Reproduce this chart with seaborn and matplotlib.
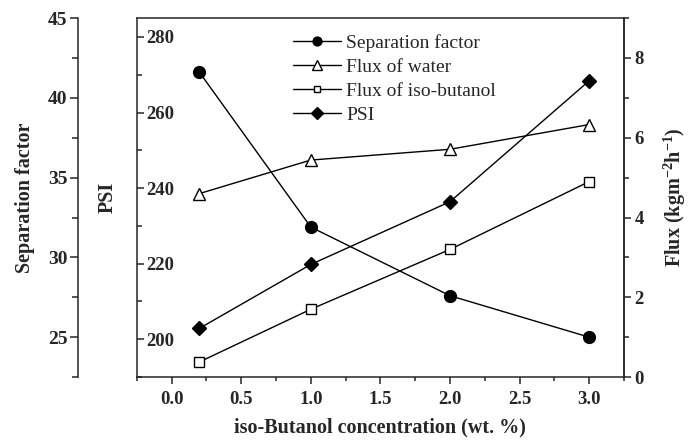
import matplotlib
matplotlib.use("Agg")
import matplotlib.pyplot as plt
import seaborn as sns
from matplotlib.ticker import MultipleLocator

# values
conc = [0.2, 1.0, 2.0, 3.0]
sep_factor = [41.6, 31.9, 27.6, 25.0]
flux_water = [4.60, 5.44, 5.71, 6.33]
flux_butanol = [0.38, 1.70, 3.20, 4.90]
psi = [202.9, 219.8, 236.4, 268.4]

sns.set_style('ticks')
plt.rcParams['font.family'] = ['Liberation Serif', 'DejaVu Serif']
plt.rcParams['font.weight'] = 'bold'
plt.rcParams['axes.labelweight'] = 'bold'
plt.rcParams['mathtext.fontset'] = 'custom'
plt.rcParams['mathtext.rm'] = 'Liberation Serif:bold'
plt.rcParams['mathtext.bf'] = 'Liberation Serif:bold'
plt.rcParams['mathtext.it'] = 'Liberation Serif:bold'
plt.rcParams['mathtext.default'] = 'rm'
plt.rcParams['axes.linewidth'] = 1.1

fig = plt.figure(figsize=(6.91, 4.40), dpi=100)
ax = fig.add_axes([0.198, 0.143, 0.705, 0.816])
ax_sep = ax.twinx()
ax_flux = ax.twinx()

line_kw = dict(color='black', linewidth=1.0, markeredgecolor='black', markeredgewidth=1.0)

sns.lineplot(x=conc, y=sep_factor, ax=ax_sep, marker='o', markersize=8.5,
             markerfacecolor='black', label='Separation factor', legend=False, **line_kw)
sns.lineplot(x=conc, y=flux_water, ax=ax_flux, marker='^', markersize=9,
             markerfacecolor='white', label='Flux of water', legend=False, **line_kw)
sns.lineplot(x=conc, y=flux_butanol, ax=ax_flux, marker='s', markersize=6.5,
             markerfacecolor='white', label='Flux of iso-butanol', legend=False, **line_kw)
sns.lineplot(x=conc, y=psi, ax=ax, marker='D', markersize=7.5,
             markerfacecolor='black', label='PSI', legend=False, **line_kw)

ax.set_xlim(-0.25, 3.25)
ax.set_ylim(190, 285)
ax_sep.set_ylim(22.5, 45)
ax_flux.set_ylim(0, 9)

# x axis
ax.xaxis.set_major_locator(MultipleLocator(0.5))
ax.xaxis.set_minor_locator(MultipleLocator(0.25))
ax.set_xticks([0, 0.5, 1, 1.5, 2, 2.5, 3])
ax.tick_params(axis='x', which='major', direction='out', length=5, width=1.1,
               labelsize=13.5, pad=5, top=False)
ax.tick_params(axis='x', which='minor', direction='out', length=3, width=1.1, top=False)
ax.set_xlabel('iso-Butanol concentration (wt. %)', fontsize=14.5, labelpad=7)

# PSI axis: ticks and labels inside the frame
ax.yaxis.set_major_locator(MultipleLocator(20))
ax.yaxis.set_minor_locator(MultipleLocator(10))
ax.set_yticks([200, 220, 240, 260, 280])
ax.tick_params(axis='y', which='major', direction='in', length=5, width=1.1,
               labelsize=13.5, pad=-6.5, right=False)
ax.tick_params(axis='y', which='minor', direction='in', length=3.5, width=1.1, right=False)
plt.setp(ax.get_yticklabels(), ha='left')
ax.set_ylabel('PSI', fontsize=14.5)
ax.yaxis.set_label_coords(-0.040, 0.5)
for s in ax.spines.values():
    s.set_visible(True)
    s.set_linewidth(1.1)

# separation factor axis, offset to the far left
ax_sep.yaxis.set_ticks_position('left')
ax_sep.yaxis.set_label_position('left')
for name in ['right', 'top', 'bottom']:
    ax_sep.spines[name].set_visible(False)
ax_sep.spines['left'].set_visible(True)
ax_sep.spines['left'].set_position(('outward', 42.5))
ax_sep.spines['left'].set_linewidth(1.1)
ax_sep.yaxis.set_major_locator(MultipleLocator(5))
ax_sep.yaxis.set_minor_locator(MultipleLocator(2.5))
ax_sep.set_yticks([25, 30, 35, 40, 45])
ax_sep.tick_params(axis='y', which='major', direction='out', length=6, width=1.1,
                   labelsize=14, pad=1.5)
ax_sep.tick_params(axis='y', which='minor', direction='out', length=4, width=1.1)
ax_sep.set_ylabel('Separation factor', fontsize=14.5)
ax_sep.yaxis.set_label_coords(-0.208, 0.5)

# flux axis on the right
for name in ['left', 'top', 'bottom']:
    ax_flux.spines[name].set_visible(False)
ax_flux.spines['right'].set_linewidth(1.1)
ax_flux.yaxis.set_major_locator(MultipleLocator(2))
ax_flux.yaxis.set_minor_locator(MultipleLocator(1))
ax_flux.tick_params(axis='y', which='major', direction='out', length=5, width=1.1,
                    labelsize=13.5, pad=2.5)
ax_flux.tick_params(axis='y', which='minor', direction='out', length=3.5, width=1.1)
ax_flux.set_ylabel(r'Flux (kgm$^{-2}$h$^{-1}$)', fontsize=14.5)
ax_flux.yaxis.set_label_coords(1.078, 0.5)

handles = []
labels = []
for a in (ax_sep, ax_flux, ax):
    h, l = a.get_legend_handles_labels()
    handles += h
    labels += l
leg = ax_flux.legend(handles, labels, loc='upper left', bbox_to_anchor=(0.32, 0.955),
                     frameon=False, borderaxespad=0, borderpad=0, handlelength=2.5,
                     handletextpad=0.25, labelspacing=0.33, markerscale=0.75,
                     prop={'family': 'Liberation Serif', 'weight': 'normal', 'size': 14})

fig.savefig('out.png', dpi=100)
